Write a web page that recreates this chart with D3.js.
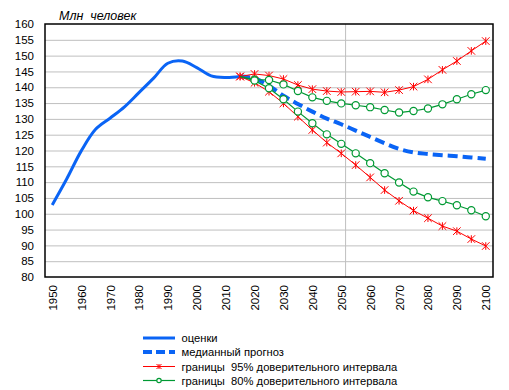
<!DOCTYPE html>
<html><head><meta charset="utf-8">
<script src="https://cdn.jsdelivr.net/npm/d3@7"></script>
<style>
body{margin:0;background:#fff;}
svg{display:block;font-family:"Liberation Sans",Arial,sans-serif;}
</style></head><body>
<svg id="c" width="509" height="390"></svg>
<script>
// ---- data ----
const estYears = [1950,1955,1960,1965,1970,1975,1980,1985,1990,1995,2000,2005,2010,2015];
const estValues = [102.8,111.0,119.8,126.7,130.2,133.8,138.3,142.8,147.6,148.3,146.2,143.6,143.1,143.4];
const fcYears = [2015,2020,2025,2030,2035,2040,2045,2050,2055,2060,2065,2070,2075,2080,2085,2090,2095,2100];
const median = [143.4,142.8,140.5,137.3,134.7,132.3,130.1,128.3,126.3,124.3,122.3,120.5,119.4,118.9,118.5,118.2,117.8,117.4];
const upper95 = [143.4,144.2,143.7,142.6,140.7,139.4,138.8,138.5,138.6,138.7,138.4,139.1,140.2,142.5,145.5,148.3,151.5,154.6];
const lower95 = [143.4,141.4,138.6,134.9,130.7,126.5,122.5,119.1,115.4,111.5,107.5,104.1,101.0,98.6,96.1,94.5,92.0,89.8];
const upper80 = [143.4,142.4,142.3,140.9,138.8,136.8,135.7,134.9,134.3,133.7,132.8,132.0,132.5,133.3,134.6,136.2,137.8,139.1];
const lower80 = [143.4,142.1,139.7,136.2,132.3,128.6,125.1,122.1,119.1,116.0,112.8,109.9,107.0,105.2,104.0,102.7,101.1,99.2];
const yTicks = [80,85,90,95,100,105,110,115,120,125,130,135,140,145,150,155,160];
const xTicks = [1950,1960,1970,1980,1990,2000,2010,2020,2030,2040,2050,2060,2070,2080,2090,2100];
const dividerYear = 2051.5;
const yTitle = "Млн  человек";
const legendLabels = ["оценки","медианный прогноз","границы  95% доверительного интервала","границы  80% доверительного интервала"];

// ---- layout ----
const L = 45, R = 493, T = 24, B = 277;
const svg = d3.select("#c");
const x = d3.scaleLinear().domain([1947.5, 2102.5]).range([L, R]);
const y = d3.scaleLinear().domain([80, 160]).range([B, T]);
const BLUE = "#0a64f5", RED = "#ff0000", GREEN = "#009933";

// gridlines
svg.append("g").attr("transform", `translate(${L},0)`)
  .call(d3.axisLeft(y).tickValues(yTicks.slice(1, -1)).tickSize(-(R - L)).tickFormat(""))
  .call(g => g.select(".domain").remove())
  .call(g => g.selectAll("line").attr("stroke", "#bfbfbf").attr("stroke-width", 1));

// vertical divider
svg.append("line").attr("x1", x(dividerYear)).attr("x2", x(dividerYear))
  .attr("y1", T).attr("y2", B).attr("stroke", "#bfbfbf").attr("stroke-width", 1);

// y axis labels
svg.append("g").attr("transform", `translate(${L},0)`)
  .call(d3.axisLeft(y).tickValues(yTicks).tickSize(0).tickPadding(11))
  .call(g => g.select(".domain").remove())
  .call(g => g.selectAll("text").attr("font-size", 11.5).attr("fill", "#000").attr("font-family", "Liberation Sans, Arial"));

// x axis labels
svg.append("g").attr("transform", `translate(0,${B})`)
  .call(d3.axisBottom(x).tickValues(xTicks).tickSize(0).tickFormat(d3.format("d")))
  .call(g => g.select(".domain").remove())
  .call(g => g.selectAll("text").attr("font-size", 11.5).attr("fill", "#000")
    .attr("font-family", "Liberation Sans, Arial")
    .attr("transform", "rotate(-90)").attr("text-anchor", "end")
    .attr("x", -8).attr("y", 0).attr("dy", "0.35em"));

// plot border
svg.append("rect").attr("x", L).attr("y", T).attr("width", R - L).attr("height", B - T)
  .attr("fill", "none").attr("stroke", "#000").attr("stroke-width", 1.5);

// title
svg.append("text").attr("x", 59).attr("y", 20).attr("font-size", 12.5).attr("font-style", "italic")
  .attr("xml:space", "preserve").style("white-space", "pre").text(yTitle);

const smooth = d3.line().x(d => x(d[0])).y(d => y(d[1])).curve(d3.curveCatmullRom.alpha(0.5));
const straight = d3.line().x(d => x(d[0])).y(d => y(d[1]));

const zip = (xs, vs) => xs.map((v, i) => [v, vs[i]]);

// estimates
svg.append("path").datum(zip(estYears, estValues)).attr("d", smooth)
  .attr("fill", "none").attr("stroke", BLUE).attr("stroke-width", 3);

// median
svg.append("path").datum(zip(fcYears, median)).attr("d", smooth)
  .attr("fill", "none").attr("stroke", BLUE).attr("stroke-width", 4).attr("stroke-dasharray", "10,5");

function starPath(cx, cy, s) {
  return `M${cx},${cy - s}L${cx},${cy + s}M${cx - s},${cy - s}L${cx + s},${cy + s}M${cx - s},${cy + s}L${cx + s},${cy - s}`;
}

// 95% bounds
[upper95, lower95].forEach(vals => {
  const pts = zip(fcYears, vals);
  svg.append("path").datum(pts).attr("d", straight).attr("fill", "none").attr("stroke", RED).attr("stroke-width", 1);
  svg.append("g").selectAll("path").data(pts).join("path")
    .attr("d", d => starPath(x(d[0]), y(d[1]), 3.8)).attr("stroke", RED).attr("stroke-width", 1).attr("fill", "none");
});

// 80% bounds
[upper80, lower80].forEach(vals => {
  const pts = zip(fcYears, vals);
  svg.append("path").datum(pts).attr("d", straight).attr("fill", "none").attr("stroke", GREEN).attr("stroke-width", 1.2);
  svg.append("g").selectAll("circle").data(pts.slice(1)).join("circle")
    .attr("cx", d => x(d[0])).attr("cy", d => y(d[1])).attr("r", 3.6)
    .attr("fill", "#fff").attr("stroke", GREEN).attr("stroke-width", 1.2);
});

// legend
const lg = svg.append("g");
const ly = [338, 352, 366.5, 380.5];
const lx1 = 143, lx2 = 175, lcx = (lx1 + lx2) / 2;
legendLabels.forEach((t, i) => {
  const yy = ly[i];
  const line = lg.append("line").attr("x1", lx1).attr("x2", lx2).attr("y1", yy).attr("y2", yy);
  if (i === 0) line.attr("stroke", BLUE).attr("stroke-width", 3);
  if (i === 1) line.attr("stroke", BLUE).attr("stroke-width", 4).attr("stroke-dasharray", "9,4");
  if (i === 2) {
    line.attr("stroke", RED).attr("stroke-width", 1);
    lg.append("path").attr("d", starPath(lcx, yy, 2.5)).attr("stroke", RED).attr("stroke-width", 1);
  }
  if (i === 3) {
    line.attr("stroke", GREEN).attr("stroke-width", 1.2);
    lg.append("circle").attr("cx", lcx).attr("cy", yy).attr("r", 2.2).attr("fill", "#fff").attr("stroke", GREEN).attr("stroke-width", 1.2);
  }
  lg.append("text").attr("x", 181.5).attr("y", yy + 4).attr("font-size", 11.2)
    .style("white-space", "pre").text(t);
});
</script>
</body></html>
